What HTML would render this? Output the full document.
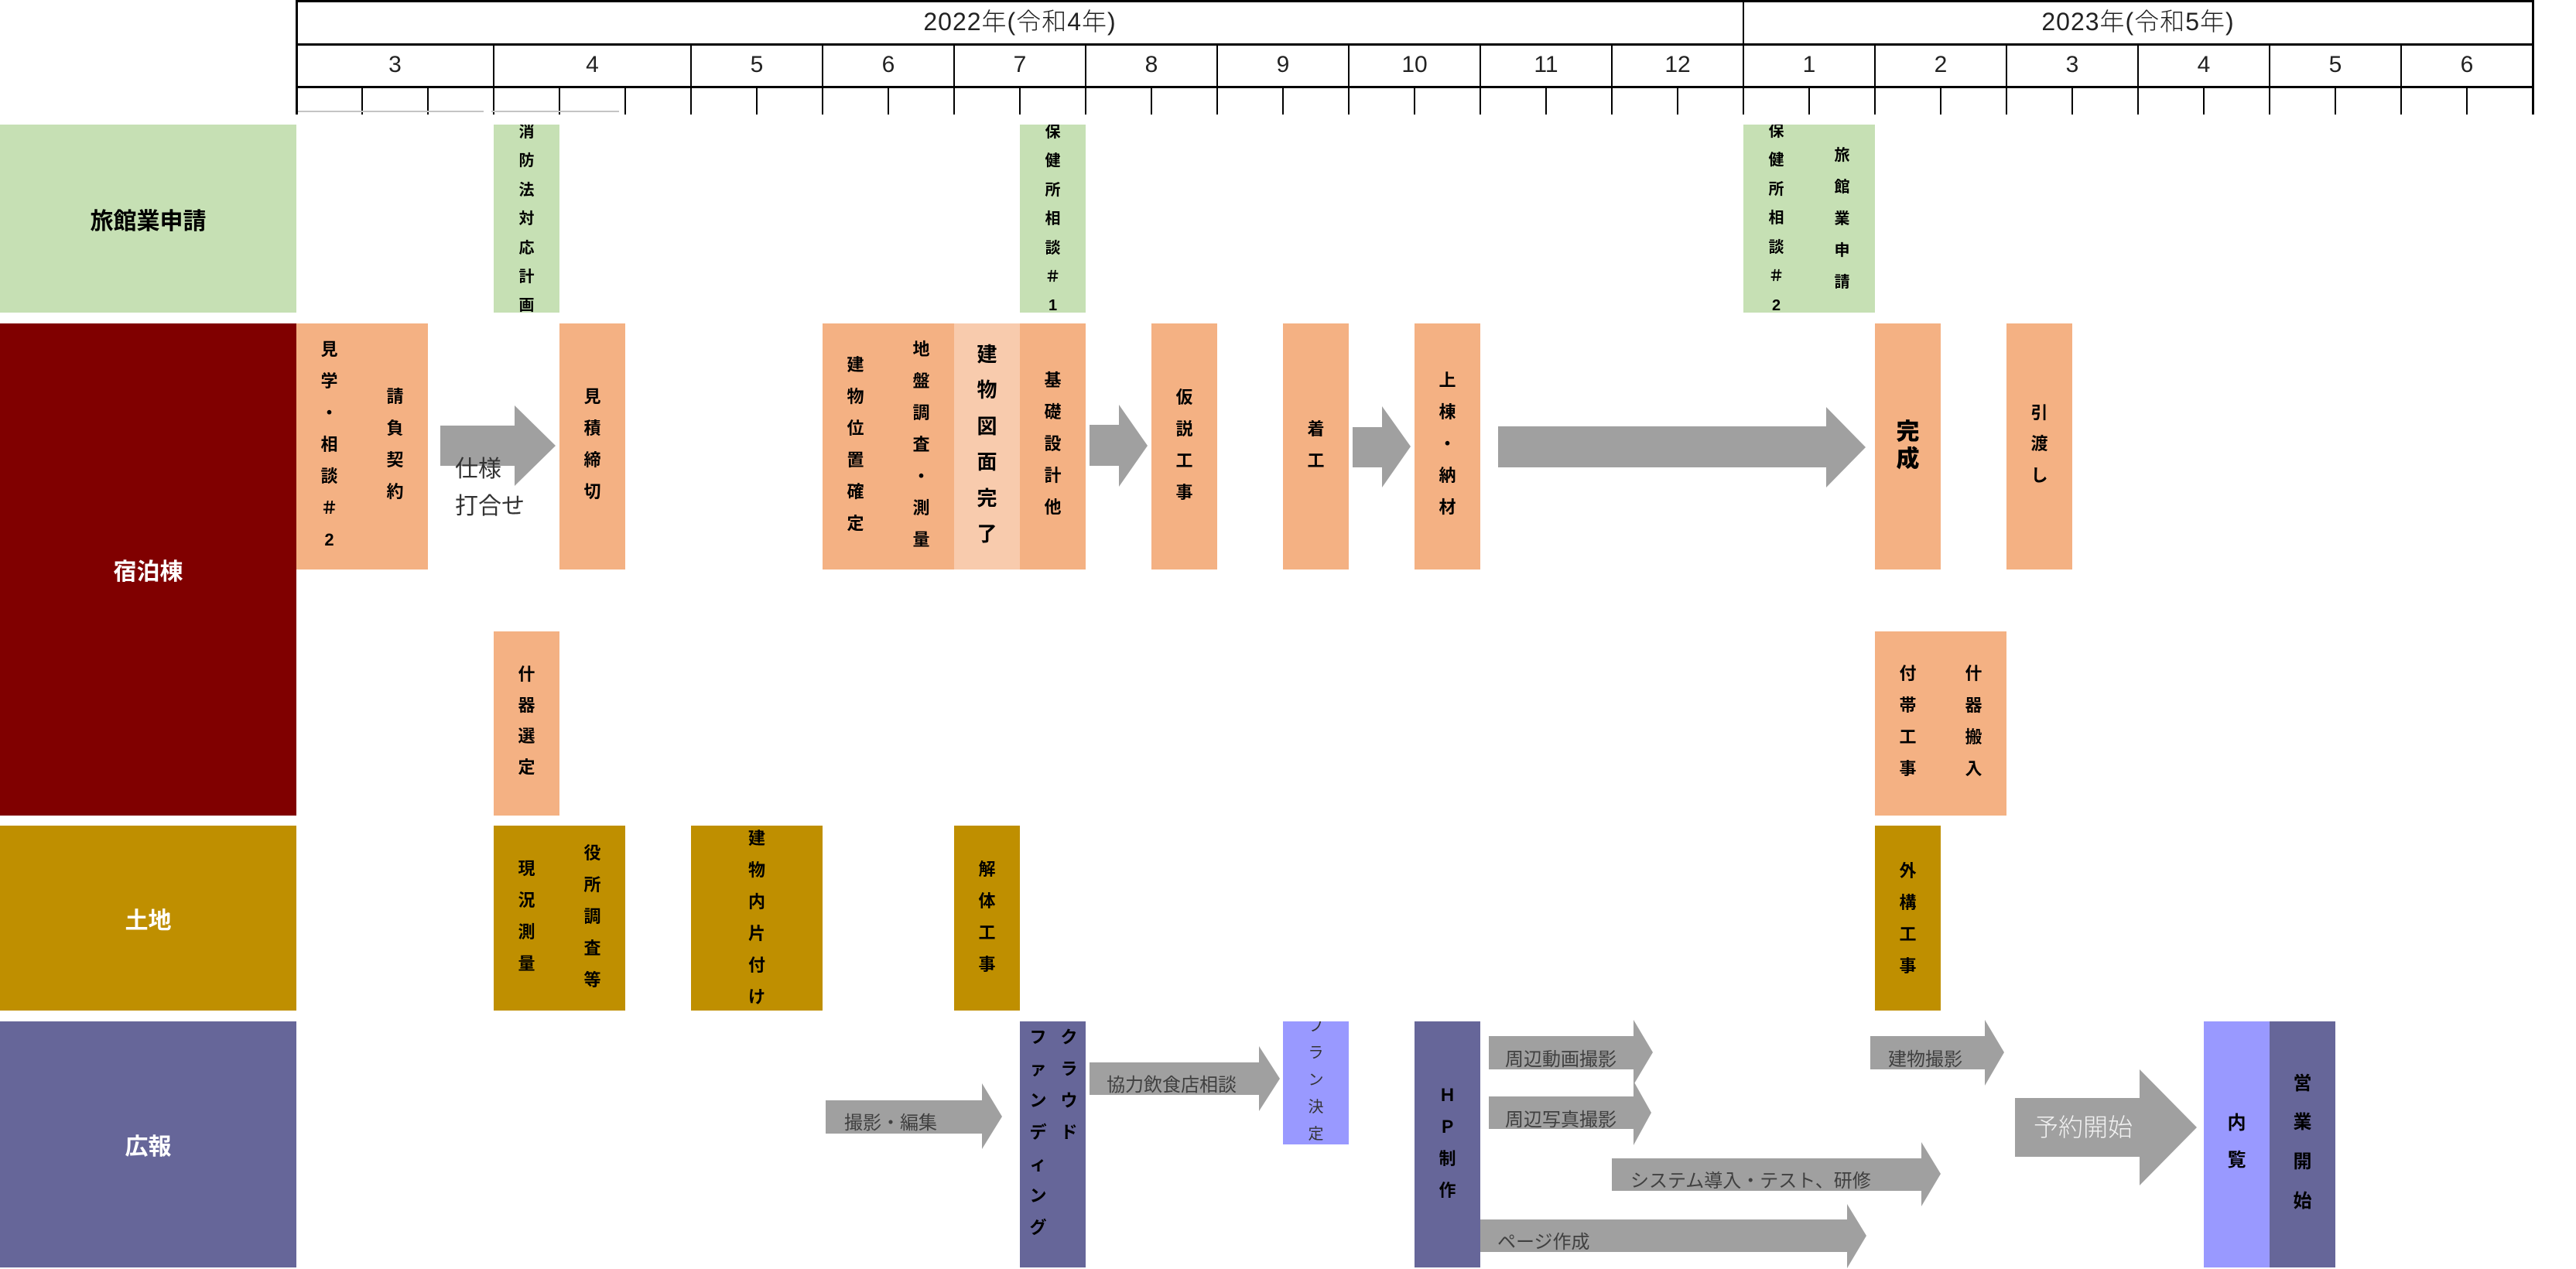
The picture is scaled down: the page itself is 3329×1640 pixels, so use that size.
<!DOCTYPE html>
<html lang="ja">
<head>
<meta charset="utf-8">
<style>
html,body{margin:0;padding:0;}
body{width:3329px;height:1640px;position:relative;overflow:hidden;background:#fff;font-family:"Liberation Sans","Noto Sans CJK JP",sans-serif;}
.a{position:absolute;}
.ln{position:absolute;background:#000;}
.bx{position:absolute;overflow:hidden;}
.v{position:absolute;width:60px;text-align:center;font-weight:700;font-size:22px;color:#000;white-space:nowrap;}
.g{background:#C6E0B4;}
.o{background:#F4B183;}
.o2{background:#F8CBAD;}
.y{background:#BF8F00;}
.p{background:#666699;}
.lp{background:#9999FF;}
.lbl{position:absolute;left:0;width:383px;display:flex;align-items:center;justify-content:center;font-weight:700;font-size:30px;}
.mo{position:absolute;top:57px;height:54px;line-height:54px;text-align:center;font-size:30px;font-weight:300;color:#222;}
.yr{position:absolute;top:2px;height:52px;line-height:52px;text-align:center;font-size:32px;font-weight:300;color:#222;letter-spacing:1px;}
.at{position:absolute;font-size:24px;line-height:40px;height:40px;color:#404040;white-space:nowrap;}
</style>
</head>
<body>

<!-- ===== HEADER ===== -->
<div class="ln" style="left:382px;top:0;width:2893px;height:3px;"></div>
<div class="ln" style="left:382px;top:56px;width:2893px;height:3px;"></div>
<div class="ln" style="left:382px;top:111px;width:2893px;height:3px;"></div>
<div class="ln" style="left:382px;top:0;width:3px;height:148px;"></div>
<div class="ln" style="left:3272px;top:0;width:3px;height:148px;"></div>
<div class="ln" style="left:2252px;top:0;width:2px;height:148px;"></div>
<!-- month dividers -->
<div class="ln" style="left:637px;top:57px;width:2px;height:91px;"></div>
<div class="ln" style="left:892px;top:57px;width:2px;height:91px;"></div>
<div class="ln" style="left:1062px;top:57px;width:2px;height:91px;"></div>
<div class="ln" style="left:1232px;top:57px;width:2px;height:91px;"></div>
<div class="ln" style="left:1402px;top:57px;width:2px;height:91px;"></div>
<div class="ln" style="left:1572px;top:57px;width:2px;height:91px;"></div>
<div class="ln" style="left:1742px;top:57px;width:2px;height:91px;"></div>
<div class="ln" style="left:1912px;top:57px;width:2px;height:91px;"></div>
<div class="ln" style="left:2082px;top:57px;width:2px;height:91px;"></div>
<div class="ln" style="left:2422px;top:57px;width:2px;height:91px;"></div>
<div class="ln" style="left:2592px;top:57px;width:2px;height:91px;"></div>
<div class="ln" style="left:2762px;top:57px;width:2px;height:91px;"></div>
<div class="ln" style="left:2932px;top:57px;width:2px;height:91px;"></div>
<div class="ln" style="left:3102px;top:57px;width:2px;height:91px;"></div>
<!-- sub ticks -->
<div class="ln" style="left:467px;top:113px;width:2px;height:35px;"></div>
<div class="ln" style="left:552px;top:113px;width:2px;height:35px;"></div>
<div class="ln" style="left:722px;top:113px;width:2px;height:35px;"></div>
<div class="ln" style="left:807px;top:113px;width:2px;height:35px;"></div>
<div class="ln" style="left:977px;top:113px;width:2px;height:35px;"></div>
<div class="ln" style="left:1147px;top:113px;width:2px;height:35px;"></div>
<div class="ln" style="left:1317px;top:113px;width:2px;height:35px;"></div>
<div class="ln" style="left:1487px;top:113px;width:2px;height:35px;"></div>
<div class="ln" style="left:1657px;top:113px;width:2px;height:35px;"></div>
<div class="ln" style="left:1827px;top:113px;width:2px;height:35px;"></div>
<div class="ln" style="left:1997px;top:113px;width:2px;height:35px;"></div>
<div class="ln" style="left:2167px;top:113px;width:2px;height:35px;"></div>
<div class="ln" style="left:2337px;top:113px;width:2px;height:35px;"></div>
<div class="ln" style="left:2507px;top:113px;width:2px;height:35px;"></div>
<div class="ln" style="left:2677px;top:113px;width:2px;height:35px;"></div>
<div class="ln" style="left:2847px;top:113px;width:2px;height:35px;"></div>
<div class="ln" style="left:3017px;top:113px;width:2px;height:35px;"></div>
<div class="ln" style="left:3187px;top:113px;width:2px;height:35px;"></div>
<!-- gray underlines -->
<div class="a" style="left:385px;top:143px;width:240px;height:2px;background:#c4c4c4;"></div>
<div class="a" style="left:635px;top:143px;width:165px;height:2px;background:#c4c4c4;"></div>

<!-- year labels -->
<div class="yr" style="left:383px;width:1870px;">2022年(令和4年)</div>
<div class="yr" style="left:2253px;width:1020px;">2023年(令和5年)</div>

<!-- month labels -->
<div class="mo" style="left:383px;width:255px;">3</div>
<div class="mo" style="left:638px;width:255px;">4</div>
<div class="mo" style="left:893px;width:170px;">5</div>
<div class="mo" style="left:1063px;width:170px;">6</div>
<div class="mo" style="left:1233px;width:170px;">7</div>
<div class="mo" style="left:1403px;width:170px;">8</div>
<div class="mo" style="left:1573px;width:170px;">9</div>
<div class="mo" style="left:1743px;width:170px;">10</div>
<div class="mo" style="left:1913px;width:170px;">11</div>
<div class="mo" style="left:2083px;width:170px;">12</div>
<div class="mo" style="left:2253px;width:170px;">1</div>
<div class="mo" style="left:2423px;width:170px;">2</div>
<div class="mo" style="left:2593px;width:170px;">3</div>
<div class="mo" style="left:2763px;width:170px;">4</div>
<div class="mo" style="left:2933px;width:170px;">5</div>
<div class="mo" style="left:3103px;width:170px;">6</div>

<!-- ===== ROW LABELS ===== -->
<div class="lbl g" style="top:161px;height:243px;color:#000;">旅館業申請</div>
<div class="lbl" style="top:418px;height:636px;background:#800000;color:#fff;">宿泊棟</div>
<div class="lbl y" style="top:1067px;height:239px;color:#fff;">土地</div>
<div class="lbl p" style="top:1320px;height:318px;color:#fff;">広報</div>

<!-- ===== ARROWS ===== -->
<svg class="a" style="left:0;top:0;" width="3329" height="1640" viewBox="0 0 3329 1640">
<g fill="#a0a0a0">
<polygon points="569,550 665,550 665,524 718,576 665,628 665,602 569,602"/>
<polygon points="1408,549 1446,549 1446,523 1483,576 1446,629 1446,602 1408,602"/>
<polygon points="1748,552 1786,552 1786,525 1823,577 1786,630 1786,604 1748,604"/>
<polygon points="1936,551 2360,551 2360,526 2411,578 2360,630 2360,604 1936,604"/>
<polygon points="1067,1422 1269,1422 1269,1400 1295,1443 1269,1485 1269,1465 1067,1465"/>
<polygon points="1408,1373 1627,1373 1627,1352 1654,1394 1627,1436 1627,1415 1408,1415"/>
<polygon points="1924,1339 2111,1339 2111,1318 2136,1360 2111,1402 2111,1382 1924,1382"/>
<polygon points="1924,1417 2111,1417 2111,1397 2134,1438 2111,1480 2111,1459 1924,1459"/>
<polygon points="2083,1497 2483,1497 2483,1476 2508,1517 2483,1559 2483,1539 2083,1539"/>
<polygon points="1912,1576 2387,1576 2387,1556 2412,1597 2387,1639 2387,1618 1912,1618"/>
<polygon points="2417,1339 2565,1339 2565,1318 2590,1360 2565,1403 2565,1382 2417,1382"/>
<polygon points="2604,1419 2765,1419 2765,1382 2839,1457 2765,1532 2765,1495 2604,1495"/>
</g>
</svg>

<!-- arrow texts -->
<div class="at" style="left:588px;top:587px;font-size:30px;color:#333;">仕様</div>
<div class="at" style="left:588px;top:635px;font-size:30px;color:#333;">打合せ</div>
<div class="at" style="left:1091px;top:1432px;">撮影・編集</div>
<div class="at" style="left:1430px;top:1383px;">協力飲食店相談</div>
<div class="at" style="left:1945px;top:1350px;">周辺動画撮影</div>
<div class="at" style="left:1945px;top:1428px;">周辺写真撮影</div>
<div class="at" style="left:2107px;top:1507px;">システム導入・テスト、研修</div>
<div class="at" style="left:1935px;top:1586px;">ページ作成</div>
<div class="at" style="left:2440px;top:1350px;">建物撮影</div>
<div class="at" style="left:2628px;top:1437px;font-size:32px;color:#f2f2f2;font-weight:300;">予約開始</div>

<!-- ===== ROW 1 : 旅館業申請 ===== -->
<div class="bx g" style="left:638px;top:161px;width:85px;height:243px;">
  <div class="v" style="left:12.5px;top:-8px;line-height:37.4px;font-size:20px;">消<br>防<br>法<br>対<br>応<br>計<br>画</div>
</div>
<div class="bx g" style="left:1318px;top:161px;width:85px;height:243px;">
  <div class="v" style="left:12.5px;top:-8px;line-height:37.4px;font-size:20px;">保<br>健<br>所<br>相<br>談<br>＃<br>1</div>
</div>
<div class="bx g" style="left:2253px;top:161px;width:170px;height:243px;">
  <div class="v" style="left:12.5px;top:-9.5px;line-height:37.5px;font-size:20px;">保<br>健<br>所<br>相<br>談<br>＃<br>2</div>
  <div class="v" style="left:97.5px;top:20px;line-height:41px;font-size:20px;">旅<br>館<br>業<br>申<br>請</div>
</div>

<!-- ===== ROW 2 : 宿泊棟 (upper) ===== -->
<div class="bx o" style="left:383px;top:418px;width:170px;height:318px;">
  <div class="v" style="left:12.5px;top:12.5px;line-height:41px;">見<br>学<br>・<br>相<br>談<br>＃<br>2</div>
  <div class="v" style="left:97.5px;top:73.5px;line-height:41px;">請<br>負<br>契<br>約</div>
</div>
<div class="bx o" style="left:723px;top:418px;width:85px;height:318px;">
  <div class="v" style="left:12.5px;top:73.5px;line-height:41px;">見<br>積<br>締<br>切</div>
</div>
<div class="bx o" style="left:1063px;top:418px;width:170px;height:318px;">
  <div class="v" style="left:12.5px;top:33px;line-height:41px;">建<br>物<br>位<br>置<br>確<br>定</div>
  <div class="v" style="left:97.5px;top:13px;line-height:41px;">地<br>盤<br>調<br>査<br>・<br>測<br>量</div>
</div>
<div class="bx o2" style="left:1233px;top:418px;width:85px;height:318px;">
  <div class="v" style="left:12.5px;top:16.5px;line-height:46.5px;font-size:26px;">建<br>物<br>図<br>面<br>完<br>了</div>
</div>
<div class="bx o" style="left:1318px;top:418px;width:85px;height:318px;">
  <div class="v" style="left:12.5px;top:53px;line-height:41px;">基<br>礎<br>設<br>計<br>他</div>
</div>
<div class="bx o" style="left:1488px;top:418px;width:85px;height:318px;">
  <div class="v" style="left:12.5px;top:74.5px;line-height:41px;">仮<br>説<br>工<br>事</div>
</div>
<div class="bx o" style="left:1658px;top:418px;width:85px;height:318px;">
  <div class="v" style="left:12.5px;top:115.5px;line-height:41px;">着<br>工</div>
</div>
<div class="bx o" style="left:1828px;top:418px;width:85px;height:318px;">
  <div class="v" style="left:12.5px;top:53px;line-height:41px;">上<br>棟<br>・<br>納<br>材</div>
</div>
<div class="bx o" style="left:2423px;top:418px;width:85px;height:318px;">
  <div class="v" style="left:12.5px;top:122.5px;line-height:35px;font-size:30px;font-weight:900;">完<br>成</div>
</div>
<div class="bx o" style="left:2593px;top:418px;width:85px;height:318px;">
  <div class="v" style="left:12.5px;top:95.5px;line-height:40.5px;">引<br>渡<br>し</div>
</div>

<!-- ===== ROW 2 : 宿泊棟 (lower) ===== -->
<div class="bx o" style="left:638px;top:816px;width:85px;height:238px;">
  <div class="v" style="left:12.5px;top:36px;line-height:40px;">什<br>器<br>選<br>定</div>
</div>
<div class="bx o" style="left:2423px;top:816px;width:170px;height:238px;">
  <div class="v" style="left:12.5px;top:34px;line-height:41px;">付<br>帯<br>工<br>事</div>
  <div class="v" style="left:97.5px;top:34px;line-height:41px;">什<br>器<br>搬<br>入</div>
</div>

<!-- ===== ROW 3 : 土地 ===== -->
<div class="bx y" style="left:638px;top:1067px;width:170px;height:239px;">
  <div class="v" style="left:12.5px;top:35px;line-height:41px;">現<br>況<br>測<br>量</div>
  <div class="v" style="left:97.5px;top:15px;line-height:41px;">役<br>所<br>調<br>査<br>等</div>
</div>
<div class="bx y" style="left:893px;top:1067px;width:170px;height:239px;">
  <div class="v" style="left:55px;top:-4.5px;line-height:41px;">建<br>物<br>内<br>片<br>付<br>け</div>
</div>
<div class="bx y" style="left:1233px;top:1067px;width:85px;height:239px;">
  <div class="v" style="left:12.5px;top:35.5px;line-height:41px;">解<br>体<br>工<br>事</div>
</div>
<div class="bx y" style="left:2423px;top:1067px;width:85px;height:239px;">
  <div class="v" style="left:12.5px;top:37.5px;line-height:41px;">外<br>構<br>工<br>事</div>
</div>

<!-- ===== ROW 4 : 広報 ===== -->
<div class="bx p" style="left:1318px;top:1320px;width:85px;height:318px;">
  <div class="v" style="left:33.5px;top:0px;line-height:41px;">ク<br>ラ<br>ウ<br>ド</div>
  <div class="v" style="left:-6.5px;top:0px;line-height:41px;">フ<br>ァ<br>ン<br>デ<br>ィ<br>ン<br>グ</div>
</div>
<div class="bx lp" style="left:1658px;top:1320px;width:85px;height:159px;">
  <div class="v" style="left:12.5px;top:-11px;line-height:35px;font-size:20px;font-weight:400;color:#333;">プ<br>ラ<br>ン<br>決<br>定</div>
</div>
<div class="bx p" style="left:1828px;top:1320px;width:85px;height:318px;">
  <div class="v" style="left:12.5px;top:74.5px;line-height:41px;">Ｈ<br>Ｐ<br>制<br>作</div>
</div>
<div class="bx lp" style="left:2848px;top:1320px;width:85px;height:318px;">
  <div class="v" style="left:12.5px;top:107.5px;line-height:48px;font-size:24px;">内<br>覧</div>
</div>
<div class="bx p" style="left:2933px;top:1320px;width:85px;height:318px;">
  <div class="v" style="left:12.5px;top:55.5px;line-height:50.7px;font-size:24px;">営<br>業<br>開<br>始</div>
</div>

</body>
</html>
